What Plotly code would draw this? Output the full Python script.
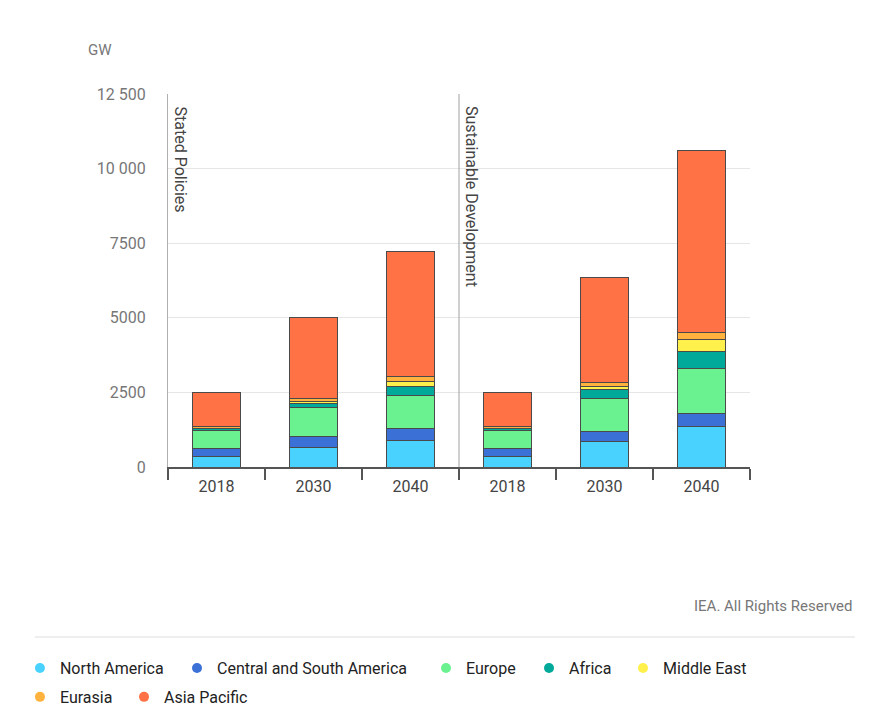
import plotly.graph_objects as go

years = ["2018", "2030", "2040", "2018", "2030", "2040"]
scenarios = ["Stated Policies", "Sustainable Development"]
y_ticks = [0, 2500, 5000, 7500, 10000, 12500]
y_tick_labels = ["0", "2500", "5000", "7500", "10 000", "12 500"]

north_america = [360, 660, 880, 360, 850, 1350]
central_south_america = [270, 355, 425, 270, 335, 450]
europe = [610, 970, 1085, 610, 1120, 1495]
africa = [45, 150, 315, 45, 300, 560]
middle_east = [20, 55, 155, 20, 100, 425]
eurasia = [40, 90, 160, 40, 130, 220]
asia_pacific = [1150, 2740, 4195, 1150, 3520, 6120]

series = [
    ("North America", north_america, "#48d2fd"),
    ("Central and South America", central_south_america, "#3b70d6"),
    ("Europe", europe, "#6af290"),
    ("Africa", africa, "#00a99a"),
    ("Middle East", middle_east, "#fff04c"),
    ("Eurasia", eurasia, "#ffb23d"),
    ("Asia Pacific", asia_pacific, "#ff7245"),
]
# legend entry placement (container fractions): x of entry start, y of row centre
legend_slots = [(0.0137, 0.0769), (0.1936, 0.0769), (0.4788, 0.0769),
                (0.5968, 0.0769), (0.7045, 0.0769),
                (0.0137, 0.0364), (0.1329, 0.0364)]

FONT = "Roboto"
xpos = list(range(len(years)))

fig = go.Figure()
for name, vals, col in series:
    fig.add_trace(go.Bar(
        x=xpos, y=vals, name=name, width=0.5,
        marker=dict(color=col, line=dict(color="#4a4a4a", width=1)),
        showlegend=False,
    ))

legend_layout = {}
for i, (name, vals, col) in enumerate(series):
    key = "legend" if i == 0 else f"legend{i + 1}"
    fig.add_trace(go.Scatter(
        x=[None], y=[None], mode="markers", name=name, legend=key,
        marker=dict(color=col, size=10, symbol="circle"),
    ))
    lx, ly = legend_slots[i]
    legend_layout[key] = dict(
        orientation="h", xref="container", yref="container",
        x=lx, y=ly, xanchor="left", yanchor="middle",
        font=dict(family=FONT, size=16, color="#222"),
        bgcolor="rgba(0,0,0,0)",
    )

fig.update_layout(
    barmode="stack",
    width=873, height=715,
    margin=dict(l=160, r=131, t=86, b=256, autoexpand=False),
    paper_bgcolor="white", plot_bgcolor="white",
    font=dict(family=FONT, size=16, color="#333"),
    xaxis=dict(
        range=[-0.5, 5.5], tickvals=xpos, ticktext=years,
        showgrid=False, zeroline=False,
        showline=True, linecolor="#555", linewidth=1.5,
        ticks="", ticklabelstandoff=4,
        tickfont=dict(color="#444", size=16),
        minor=dict(tickvals=[-0.5, 0.5, 1.5, 2.5, 3.5, 4.5, 5.5],
                   ticks="outside", ticklen=11, tickcolor="#555", tickwidth=1.5),
    ),
    yaxis=dict(
        range=[0, 12500], tickvals=y_ticks, ticktext=y_tick_labels,
        showgrid=True, gridcolor="#e6e6e6", gridwidth=1,
        zeroline=False, showline=True, linecolor="#b0b0b0", linewidth=1,
        ticks="", ticklabelstandoff=18,
        tickfont=dict(color="#777", size=16),
    ),
    shapes=[
        dict(type="line", xref="x", yref="paper", x0=2.5, x1=2.5, y0=0, y1=1,
             line=dict(color="#a0a0a0", width=1)),
        dict(type="line", xref="paper", yref="paper", x0=-0.2285, x1=1.1804,
             y0=-0.4558, y1=-0.4558, line=dict(color="#dddddd", width=1)),
    ],
    annotations=[
        dict(text="GW", xref="paper", yref="paper", x=-0.141, y=1.118,
             xanchor="left", yanchor="middle", showarrow=False,
             font=dict(color="#777", size=15)),
        dict(text=scenarios[0], xref="x", yref="paper", x=-0.5, y=1,
             xanchor="left", yanchor="top", xshift=1, yshift=-10,
             textangle=90, showarrow=False, font=dict(color="#444", size=16)),
        dict(text=scenarios[1], xref="x", yref="paper", x=2.5, y=1,
             xanchor="left", yanchor="top", xshift=1, yshift=-10,
             textangle=90, showarrow=False, font=dict(color="#444", size=16)),
        dict(text="IEA. All Rights Reserved", xref="paper", yref="paper",
             x=1.1804, y=-0.373, xanchor="right", yanchor="middle",
             showarrow=False, font=dict(color="#777", size=15)),
    ],
    **legend_layout,
)

fig.write_html("out.html")
